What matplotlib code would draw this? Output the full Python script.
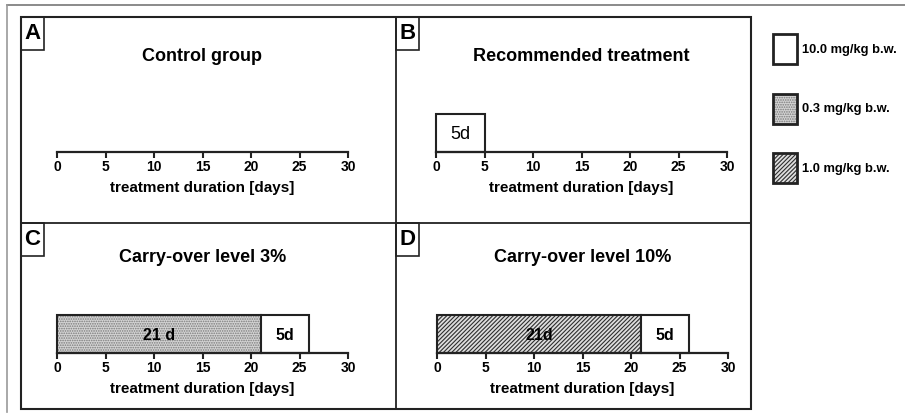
import matplotlib
matplotlib.use("Agg")
import matplotlib.pyplot as plt
from matplotlib.patches import Rectangle, Patch
from matplotlib.lines import Line2D

plt.rcParams['font.family'] = ['Liberation Sans', 'DejaVu Sans']
plt.rcParams['hatch.linewidth'] = 0.8

W, H = 905, 417

# data
panel_letters = ['A', 'B', 'C', 'D']
panel_titles = ['Control group', 'Recommended treatment',
                'Carry-over level 3%', 'Carry-over level 10%']
durations = [[], [5], [21, 5], [21, 5]]
doses = [[], ['10.0 mg/kg b.w.'], ['0.3 mg/kg b.w.', '10.0 mg/kg b.w.'],
         ['1.0 mg/kg b.w.', '10.0 mg/kg b.w.']]
bar_labels = [[], ['5d'], ['21 d', '5d'], ['21d', '5d']]
legend_doses = ['10.0 mg/kg b.w.', '0.3 mg/kg b.w.', '1.0 mg/kg b.w.']
ticks = [0, 5, 10, 15, 20, 25, 30]

# look of each dose
styles = {
    '10.0 mg/kg b.w.': dict(facecolor='white', hatch=None, hcolor='white'),
    '0.3 mg/kg b.w.': dict(facecolor='#d4d4d4', hatch='.......', hcolor='#7a7a7a'),
    '1.0 mg/kg b.w.': dict(facecolor='#dedede', hatch='////////', hcolor='#2e2e2e'),
}

fig = plt.figure(figsize=(W / 100, H / 100), dpi=100)


def fx(px):
    return px / W


def fy(py):
    return 1 - py / H


# outer grey frame
fig.add_artist(Line2D([fx(7), fx(905)], [fy(5), fy(5)], color='#777777', lw=1.2))
fig.add_artist(Line2D([fx(7), fx(7)], [fy(5), fy(412)], color='#999999', lw=1.2))

# panel grid
dark = '#222222'
fig.add_artist(Rectangle((fx(21), fy(409)), fx(751) - fx(21), fy(17) - fy(409),
                         fill=False, ec=dark, lw=1.5, transform=fig.transFigure))
fig.add_artist(Line2D([fx(396), fx(396)], [fy(17), fy(409)], color=dark, lw=1.3))
fig.add_artist(Line2D([fx(21), fx(751)], [fy(223), fy(223)], color=dark, lw=1.3))

axis_left = [57, 436, 57, 437]
axis_y = [152, 152, 353, 353]
box_origin = [(21, 17), (396, 17), (21, 223), (396, 223)]

for i in range(4):
    ax = fig.add_axes([fx(axis_left[i]), fy(axis_y[i]), 291 / W, 38 / H])
    ax.set_xlim(0, 30)
    ax.set_ylim(0, 1)
    for s in ['left', 'top', 'right']:
        ax.spines[s].set_visible(False)
    ax.spines['bottom'].set_linewidth(1.6)
    ax.spines['bottom'].set_color(dark)
    ax.set_yticks([])
    ax.set_xticks(ticks)
    ax.set_xticklabels([str(t) for t in ticks], fontweight='bold', fontsize=10)
    ax.tick_params(axis='x', length=4, width=1.5, color=dark, pad=2)
    ax.set_xlabel('treatment duration [days]', fontweight='bold', fontsize=11, labelpad=4.5)
    ax.set_title(panel_titles[i], fontweight='bold', fontsize=13, pad=38)
    ax.patch.set_visible(False)

    start = 0
    for dur, dose, lab in zip(durations[i], doses[i], bar_labels[i]):
        st = styles[dose]
        ax.barh(0.5, dur, left=start, height=1, color=st['facecolor'],
                edgecolor=st['hcolor'], hatch=st['hatch'], lw=0, clip_on=False)
        ax.barh(0.5, dur, left=start, height=1, fill=False,
                edgecolor=dark, lw=1.5, clip_on=False)
        ax.text(start + dur / 2, 0.45, lab, ha='center', va='center',
                fontsize=13 if i == 1 else 11.5,
                fontweight='normal' if i == 1 else 'bold')
        start += dur

    # letter box
    bx, by = box_origin[i]
    fig.add_artist(Rectangle((fx(bx), fy(by + 33)), 23 / W, 33 / H, fill=False,
                             ec=dark, lw=1.2, transform=fig.transFigure))
    fig.text(fx(bx + 11.5), fy(by + 16.5), panel_letters[i], ha='center', va='center',
             fontsize=16, fontweight='bold')

# legend
handles = []
for d in legend_doses:
    st = styles[d]
    handles.append((Patch(facecolor=st['facecolor'], edgecolor=st['hcolor'],
                          hatch=st['hatch'], lw=0),
                    Patch(fill=False, edgecolor=dark, lw=2.0)))
fig.legend(handles, legend_doses, loc='upper left',
           bbox_to_anchor=(fx(763), fy(23.5)), frameon=False,
           prop=dict(weight='bold', size=9.3),
           handlelength=1.85, handleheight=3.2, labelspacing=2.3,
           handletextpad=0.35, borderpad=0.3)

fig.savefig('out.png', dpi=100)
